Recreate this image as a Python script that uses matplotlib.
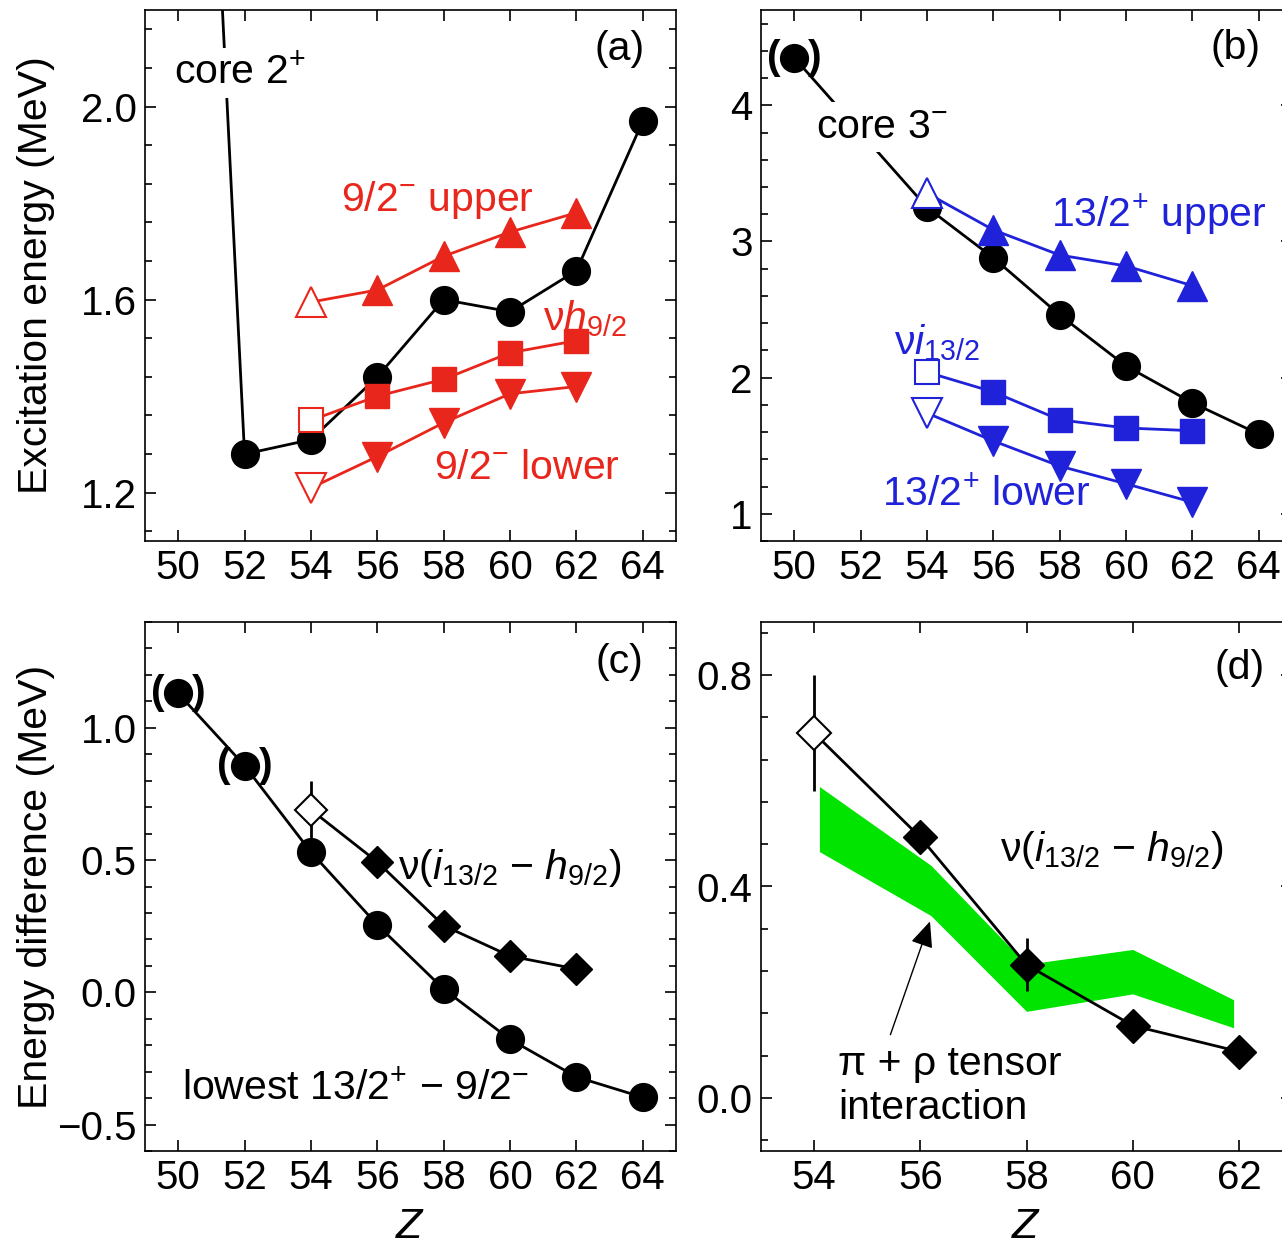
import matplotlib
matplotlib.use("Agg")
import matplotlib.pyplot as plt
from matplotlib.ticker import MultipleLocator, FuncFormatter

plt.rcParams["font.family"] = ["Liberation Sans", "DejaVu Sans"]
plt.rcParams["mathtext.fontset"] = "custom"
plt.rcParams["mathtext.rm"] = "Liberation Sans"
plt.rcParams["mathtext.it"] = "Liberation Sans:italic"
plt.rcParams["font.size"] = 29.5

RED = "#e8261c"
BLUE = "#1f22d8"
GREEN = "#00e400"
LW = 2.0

# (a) core 2+ and 9/2- states (MeV)
z_core2 = [50, 52, 54, 56, 58, 60, 62, 64]
e_core2 = [4.04, 1.28, 1.31, 1.44, 1.60, 1.575, 1.66, 1.97]
z_odd = [54, 56, 58, 60, 62]
e_92_upper = [1.595, 1.62, 1.69, 1.74, 1.78]
e_h92 = [1.35, 1.40, 1.435, 1.49, 1.515]
e_92_lower = [1.21, 1.275, 1.345, 1.405, 1.42]

# (b) core 3- and 13/2+ states (MeV)
z_core3 = [50, 54, 56, 58, 60, 62, 64]
e_core3 = [4.35, 3.25, 2.88, 2.46, 2.085, 1.815, 1.585]
e_132_upper = [3.355, 3.085, 2.90, 2.82, 2.675]
e_i132 = [2.04, 1.895, 1.69, 1.63, 1.61]
e_132_lower = [1.74, 1.535, 1.35, 1.22, 1.085]

# (c), (d) energy differences (MeV)
z_lowest = [50, 52, 54, 56, 58, 60, 62, 64]
d_lowest = [1.13, 0.857, 0.53, 0.255, 0.012, -0.178, -0.32, -0.397]
d_nu = [0.69, 0.493, 0.252, 0.137, 0.088]
d_nu_err = [0.11, 0.0, 0.05, 0.0, 0.0]

# tensor-force band
z_band = [54.1, 56.2, 58.0, 60.0, 61.9]
band_hi = [0.589, 0.44, 0.253, 0.281, 0.186]
band_lo = [0.466, 0.345, 0.164, 0.197, 0.133]


def fmt_ticks(decimals):
    return FuncFormatter(lambda v, p: f"{v:.{decimals}f}".replace("-", "\u2212"))


def style(ax, xlim, ylim, ymajor, yminor, decimals):
    ax.set_xlim(*xlim)
    ax.set_ylim(*ylim)
    ax.xaxis.set_major_locator(MultipleLocator(2))
    ax.yaxis.set_major_locator(MultipleLocator(ymajor))
    ax.yaxis.set_minor_locator(MultipleLocator(yminor))
    ax.yaxis.set_major_formatter(fmt_ticks(decimals))
    ax.tick_params(which="both", direction="in", top=True, right=True,
                   width=1.2, labelsize=29, pad=6)
    ax.tick_params(which="major", length=8)
    ax.tick_params(which="minor", length=5)
    for s in ax.spines.values():
        s.set_linewidth(1.2)


def series(ax, z, e, color, marker, ms):
    # line through all points, first point drawn open
    ax.plot(z, e, color=color, lw=LW, zorder=2)
    ax.plot(z[1:], e[1:], ls="none", marker=marker, ms=ms, color=color, zorder=3)
    ax.plot(z[:1], e[:1], ls="none", marker=marker, ms=ms, mfc="white",
            mec=color, mew=1.5, zorder=3)


def parens(ax, z, e):
    for ch, dx in (("(", -15), (")", 15)):
        ax.annotate(ch, (z, e), xytext=(dx, 0), textcoords="offset points",
                    ha="center", va="center", fontweight="bold", zorder=4)


W, H = 1282, 1247
fig = plt.figure(figsize=(W / 100, H / 100), dpi=100)
ax_a = fig.add_axes([145 / W, (H - 541) / H, 531 / W, 531 / H])
ax_b = fig.add_axes([761 / W, (H - 541) / H, 531 / W, 531 / H])
ax_c = fig.add_axes([145 / W, (H - 1151) / H, 531 / W, 529 / H])
ax_d = fig.add_axes([761 / W, (H - 1151) / H, 531 / W, 529 / H])

# (a)
ax_a.plot(z_core2, e_core2, color="black", lw=LW, marker="o", ms=20, zorder=2)
series(ax_a, z_odd, e_92_upper, RED, "^", 21)
series(ax_a, z_odd, e_h92, RED, "s", 17)
series(ax_a, z_odd, e_92_lower, RED, "v", 21)
style(ax_a, (49, 65), (1.1, 2.2), 0.4, 0.08, 1)
ax_a.set_ylabel("Excitation energy (MeV)")
ax_a.yaxis.set_label_coords(-0.17, 0.5)
ax_a.text(63.3, 2.12, "(a)", ha="center", va="center")
ax_a.text(51.86, 2.07, "core 2$^{+}$", ha="center", va="center", zorder=5,
          bbox=dict(fc="white", ec="none", pad=4))
ax_a.text(57.8, 1.806, "9/2$^{-}$ upper", color=RED, ha="center", va="center")
ax_a.text(62.26, 1.56, "ν$h_{9/2}$", color=RED, ha="center", va="center")
ax_a.text(60.5, 1.251, "9/2$^{-}$ lower", color=RED, ha="center", va="center")

# (b)
ax_b.plot(z_core3, e_core3, color="black", lw=LW, marker="o", ms=20, zorder=2)
series(ax_b, z_odd, e_132_upper, BLUE, "^", 21)
series(ax_b, z_odd, e_i132, BLUE, "s", 17)
series(ax_b, z_odd, e_132_lower, BLUE, "v", 21)
style(ax_b, (49, 65), (0.8, 4.7), 1, 0.2, 0)
parens(ax_b, z_core3[0], e_core3[0])
ax_b.text(63.3, 4.42, "(b)", ha="center", va="center")
ax_b.text(52.65, 3.84, "core 3$^{-}$", ha="center", va="center", zorder=5,
          bbox=dict(fc="white", ec="none", pad=4))
ax_b.text(61.0, 3.194, "13/2$^{+}$ upper", color=BLUE, ha="center", va="center")
ax_b.text(54.3, 2.254, "ν$i_{13/2}$", color=BLUE, ha="center", va="center")
ax_b.text(55.78, 1.138, "13/2$^{+}$ lower", color=BLUE, ha="center", va="center")

# (c)
ax_c.plot(z_lowest, d_lowest, color="black", lw=LW, marker="o", ms=20, zorder=2)
ax_c.errorbar(z_odd, d_nu, yerr=d_nu_err, fmt="none", ecolor="black",
              elinewidth=2, capsize=0, zorder=2)
series(ax_c, z_odd, d_nu, "black", "D", 16)
for i in (0, 1):
    parens(ax_c, z_lowest[i], d_lowest[i])
style(ax_c, (49, 65), (-0.6, 1.4), 0.5, 0.1, 1)
ax_c.set_ylabel("Energy difference (MeV)")
ax_c.yaxis.set_label_coords(-0.17, 0.5)
ax_c.set_xlabel("$Z$", fontsize=31, labelpad=7)
ax_c.text(63.3, 1.249, "(c)", ha="center", va="center")
ax_c.text(56.62, 0.47, "ν($i_{13/2}$ − $h_{9/2}$)", ha="left", va="center")
ax_c.text(50.11, -0.362, "lowest 13/2$^{+}$ − 9/2$^{-}$", ha="left", va="center")

# (d)
ax_d.fill_between(z_band, band_lo, band_hi, color=GREEN, lw=0, zorder=1)
ax_d.errorbar(z_odd, d_nu, yerr=d_nu_err, fmt="none", ecolor="black",
              elinewidth=2, capsize=0, zorder=2)
series(ax_d, z_odd, d_nu, "black", "D", 17)
style(ax_d, (53, 63), (-0.1, 0.9), 0.4, 0.08, 1)
ax_d.set_xlabel("$Z$", fontsize=31, labelpad=7)
ax_d.text(62.02, 0.813, "(d)", ha="center", va="center")
ax_d.text(57.5, 0.469, "ν($i_{13/2}$ − $h_{9/2}$)", ha="left", va="center")
ax_d.text(54.45, 0.022, "π + ρ tensor\ninteraction", ha="left", va="center",
          linespacing=1.2)
ax_d.annotate("", xy=(56.2, 0.339), xytext=(55.42, 0.115),
              arrowprops=dict(arrowstyle="-|>,head_length=0.8,head_width=0.35",
                              color="black", lw=1, mutation_scale=20))

fig.savefig("out.png", dpi=100)
